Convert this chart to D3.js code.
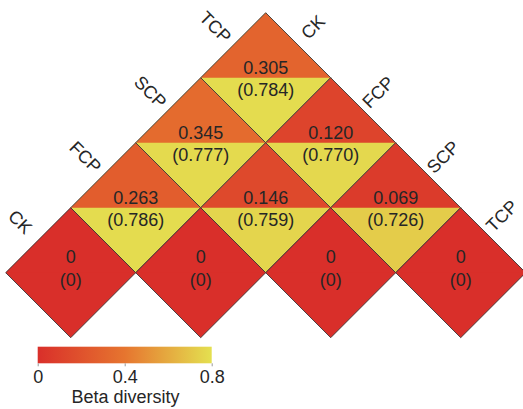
<!DOCTYPE html>
<html>
<head>
<meta charset="utf-8">
<script src="https://cdn.jsdelivr.net/npm/d3@7"></script>
<style>
  html, body { margin: 0; padding: 0; background: #fff; }
  svg { display: block; font-family: "Liberation Sans", Arial, sans-serif; }
</style>
</head>
<body>
<svg id="chart" width="523" height="409"></svg>
<script>
// Treatments along both axes of the triangular matrix
const groups = ["CK", "FCP", "SCP", "TCP"];
// Pairwise beta diversity (upper half of each diamond)
const pairA = ["CK", "CK", "CK", "FCP", "FCP", "SCP", "CK", "FCP", "SCP", "TCP"];
const pairB = ["FCP", "SCP", "TCP", "SCP", "TCP", "TCP", "CK", "FCP", "SCP", "TCP"];
const betaValues = [0.263, 0.345, 0.305, 0.146, 0.120, 0.069, 0, 0, 0, 0];
// Second index shown in parentheses (lower half of each diamond)
const betaParen = [0.786, 0.777, 0.784, 0.759, 0.770, 0.726, 0, 0, 0, 0];
// Colour bar
const legendTicks = [0, 0.4, 0.8];
const legendTitle = "Beta diversity";

const svg = d3.select("#chart");
const half = 65;              // half diagonal of a diamond
const originX = 70.7;         // centre x of the CK–CK diamond
const originY = 272.7;        // centre y of the bottom row

const color = d3.scaleLinear()
  .domain([0, 0.4, 0.8])
  .range(["#d92f2a", "#e6752f", "#e4e050"])
  .clamp(true);

// diagonal index scale: position of a group along an axis
const idx = d3.scalePoint().domain(groups).range([0, groups.length - 1]);

const cells = pairA.map((a, k) => {
  const i = idx(a), j = idx(pairB[k]);
  return {
    a, b: pairB[k], v: betaValues[k], p: betaParen[k],
    cx: originX + (i + j) * half,
    cy: originY - (j - i) * half,
    diag: i === j
  };
});

const g = svg.append("g");

const cell = g.selectAll("g.cell").data(cells).join("g").attr("class", "cell");

const diamond = d => `M${d.cx},${d.cy - half} L${d.cx + half},${d.cy} L${d.cx},${d.cy + half} L${d.cx - half},${d.cy} Z`;

// whole diamond in the lower-half colour
cell.append("path")
  .attr("d", diamond)
  .attr("fill", d => color(d.p));
// upper triangle on top
cell.append("path")
  .attr("d", d => `M${d.cx},${d.cy - half} L${d.cx + half},${d.cy} L${d.cx - half},${d.cy} Z`)
  .attr("fill", d => color(d.v));
// outline
cell.append("path")
  .attr("d", diamond)
  .attr("fill", "none")
  .attr("stroke", "#3a3a3a")
  .attr("stroke-width", 0.9);

const fmt = v => v === 0 ? "0" : d3.format(".3f")(v);

cell.append("text")
  .attr("x", d => d.cx)
  .attr("y", d => d.cy + (d.diag ? -16 : -10))
  .attr("text-anchor", "middle")
  .attr("dominant-baseline", "central")
  .attr("font-size", 18)
  .attr("fill", "#262626")
  .text(d => fmt(d.v));

cell.append("text")
  .attr("x", d => d.cx)
  .attr("y", d => d.cy + (d.diag ? 7 : 12))
  .attr("text-anchor", "middle")
  .attr("dominant-baseline", "central")
  .attr("font-size", 18)
  .attr("fill", "#262626")
  .text(d => "(" + fmt(d.p) + ")");

// Axis labels along the upper-left edge (CK row: second group of each pair)
const leftCells = cells.filter(d => d.a === "CK");
g.selectAll("text.left").data(leftCells).join("text")
  .attr("class", "left")
  .attr("transform", d => {
    const mx = d.cx - half / 2 - 18, my = d.cy - half / 2 - 18;
    return `translate(${mx},${my}) rotate(45)`;
  })
  .attr("text-anchor", "middle")
  .attr("dominant-baseline", "central")
  .attr("font-size", 18)
  .attr("fill", "#262626")
  .text(d => d.b);

// Axis labels along the upper-right edge (TCP column: first group of each pair);
// a label that would run past the right border slides up along the edge instead
const rightCells = cells.filter(d => d.b === "TCP");
const maxX = 502;
g.selectAll("text.right").data(rightCells).join("text")
  .attr("class", "right")
  .attr("transform", d => {
    let mx = d.cx + half / 2 + 15, my = d.cy - half / 2 - 18;
    const over = Math.max(0, mx - maxX);
    mx -= over; my -= over;
    return `translate(${mx},${my}) rotate(-45)`;
  })
  .attr("text-anchor", "middle")
  .attr("dominant-baseline", "central")
  .attr("font-size", 18)
  .attr("fill", "#262626")
  .text(d => d.a);

// Colour bar
const barX0 = 37.7, barX1 = 211.7, barY = 346.7, barH = 16.6;
const xLeg = d3.scaleLinear().domain([0, 0.8]).range([barX0, barX1]);

const grad = svg.append("defs").append("linearGradient")
  .attr("id", "betaGrad").attr("x1", "0%").attr("x2", "100%");
d3.range(0, 1.0001, 0.1).forEach(t => {
  grad.append("stop").attr("offset", (t * 100) + "%").attr("stop-color", color(t * 0.8));
});

svg.append("rect")
  .attr("x", barX0).attr("y", barY)
  .attr("width", barX1 - barX0).attr("height", barH)
  .attr("fill", "url(#betaGrad)");

const axis = svg.append("g")
  .attr("transform", `translate(0,${barY + barH})`)
  .call(d3.axisBottom(xLeg).tickValues(legendTicks).tickSize(3).tickFormat(d3.format("")))
  .call(a => a.select(".domain").remove());
axis.selectAll(".tick line").attr("stroke", "#999");
axis.selectAll(".tick text")
  .attr("font-size", 18)
  .attr("font-family", "Liberation Sans, Arial, sans-serif")
  .attr("fill", "#262626")
  .attr("y", 0)
  .attr("dy", 0)
  .attr("dominant-baseline", "central")
  .attr("transform", "translate(0,14)");

svg.append("text")
  .attr("x", 125.5).attr("y", 403)
  .attr("text-anchor", "middle")
  .attr("font-size", 18)
  .attr("fill", "#262626")
  .text(legendTitle);
</script>
</body>
</html>
